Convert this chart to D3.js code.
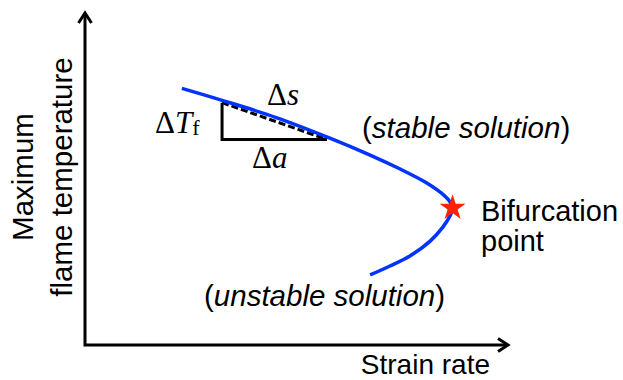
<!DOCTYPE html>
<html>
<head>
<meta charset="utf-8">
<script src="https://cdn.jsdelivr.net/npm/d3@7"></script>
<style>
  body { margin: 0; background: #fff; }
  text { font-family: "Liberation Sans", Arial, sans-serif; fill: #000; }
  .math { font-family: "Liberation Serif", "Times New Roman", serif; }
</style>
</head>
<body>
<script>
// strain rate / max flame temperature, arbitrary units (0..10)
var strainRate = [2.29, 3.24, 4.52, 5.79, 6.74, 7.45, 8.04, 8.42, 8.63, 8.69,
                  8.63, 8.46, 8.16, 7.68, 7.21, 6.74];
var flameTemp  = [7.73, 7.37, 6.85, 6.23, 5.72, 5.30, 4.91, 4.58, 4.31, 4.13,
                  3.89, 3.55, 3.13, 2.68, 2.38, 2.11];

// bifurcation point (turning point of the curve)
var bifurcation = {a: 8.69, t: 4.13};

// slope triangle: corner, end of horizontal leg
var triA = [3.24, 3.24, 5.72];
var triT = [7.30, 6.19, 6.19];

var width = 623, height = 380;

var x = d3.scaleLinear().domain([0, 10]).range([85, 508]);
var y = d3.scaleLinear().domain([0, 10]).range([345, 13]);

var svg = d3.select("body").append("svg")
    .attr("width", width)
    .attr("height", height);

// axes with open arrow heads
var axes = svg.append("g")
    .attr("stroke", "#000")
    .attr("stroke-width", 3)
    .attr("fill", "none");

axes.append("path")
    .attr("d", "M" + x(0) + "," + y(10) + "V" + y(0) + "H" + x(10));

var ah = 10, aw = 6.5;
axes.append("path")
    .attr("d", "M" + (x(0) - aw) + "," + (y(10) + ah) + "L" + x(0) + "," + y(10) + "L" + (x(0) + aw) + "," + (y(10) + ah));
axes.append("path")
    .attr("d", "M" + (x(10) - ah) + "," + (y(0) - aw) + "L" + x(10) + "," + y(0) + "L" + (x(10) - ah) + "," + (y(0) + aw));

// slope triangle
var tri = svg.append("g").attr("stroke", "#000").attr("stroke-width", 3).attr("fill", "none");
tri.append("path")
    .attr("d", "M" + x(triA[0]) + "," + y(triT[0]) + "V" + y(triT[1]) + "H" + x(triA[2]));
tri.append("line")
    .attr("x1", x(triA[0])).attr("y1", y(triT[0]))
    .attr("x2", x(triA[2])).attr("y2", y(triT[2]))
    .attr("stroke-dasharray", "7,3");

// the S-curve
var pts = strainRate.map(function (d, i) { return [d, flameTemp[i]]; });
var line = d3.line()
    .x(function (d) { return x(d[0]); })
    .y(function (d) { return y(d[1]); })
    .curve(d3.curveCatmullRom.alpha(0.5));

svg.append("path")
    .attr("d", line(pts))
    .attr("fill", "none")
    .attr("stroke", "#0033ff")
    .attr("stroke-width", 3.5);

// bifurcation star
svg.append("path")
    .attr("transform", "translate(" + x(bifurcation.a) + "," + y(bifurcation.t) + ")")
    .attr("d", d3.symbol().type(d3.symbolStar).size(210)())
    .attr("fill", "#ff2200");

// labels
var fs = 29.5;

var ylab = svg.append("text")
    .attr("transform", "translate(33,177) rotate(-90)")
    .attr("text-anchor", "middle")
    .style("font-size", fs + "px");
ylab.append("tspan").attr("x", 0).attr("y", 0).text("Maximum");
ylab.append("tspan").attr("x", 0).attr("y", 39).text("flame temperature");

svg.append("text")
    .attr("x", 490).attr("y", 374)
    .attr("text-anchor", "end")
    .style("font-size", "28px")
    .text("Strain rate");

var bif = svg.append("text")
    .style("font-size", "29px");
bif.append("tspan").attr("x", 481).attr("y", 221).text("Bifurcation");
bif.append("tspan").attr("x", 481).attr("y", 251).text("point");

function solutionLabel(px, py, word) {
    var t = svg.append("text")
        .attr("x", px).attr("y", py)
        .style("font-size", fs + "px");
    t.append("tspan").text("(");
    t.append("tspan").style("font-style", "italic").text(word + " solution");
    t.append("tspan").text(")");
}
solutionLabel(362, 138, "stable");
solutionLabel(204, 306, "unstable");

// math labels
var ms = 31;
var dT = svg.append("text").attr("class", "math").attr("x", 155).attr("y", 133).style("font-size", ms + "px");
dT.append("tspan").text("\u0394");
dT.append("tspan").style("font-style", "italic").text("T");
dT.append("tspan").attr("dy", 2).style("font-size", "22px").text("f");

var ds = svg.append("text").attr("class", "math").attr("x", 267).attr("y", 105).style("font-size", ms + "px");
ds.append("tspan").text("\u0394");
ds.append("tspan").style("font-style", "italic").text("s");

var da = svg.append("text").attr("class", "math").attr("x", 252).attr("y", 168).style("font-size", ms + "px");
da.append("tspan").text("\u0394");
da.append("tspan").style("font-style", "italic").text("a");
</script>
</body>
</html>
